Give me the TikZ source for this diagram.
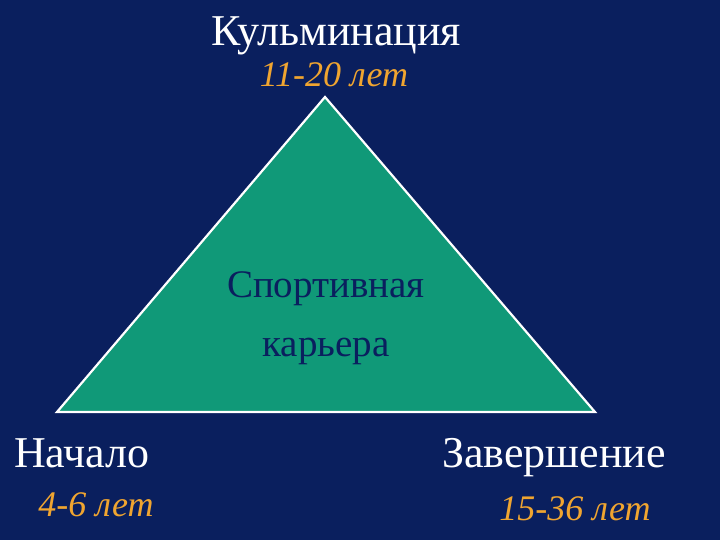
\documentclass[tikz,border=0pt]{standalone}
\usepackage{fontspec}
\setmainfont{Liberation Serif}
\definecolor{navybg}{RGB}{10,31,94}
\definecolor{careergreen}{RGB}{16,153,120}
\definecolor{yearorange}{RGB}{240,165,48}
\tikzset{
  stage/.style={anchor=base,text=white,font=\fontsize{44}{48}\selectfont},
  years/.style={anchor=base,text=yearorange,font=\fontsize{36}{40}\selectfont\itshape},
  inner/.style={anchor=base,text=navybg,font=\fontsize{39}{44}\selectfont}
}
\begin{document}
\begin{tikzpicture}[x=1pt,y=-1pt]
  \fill[navybg] (0,0) rectangle (720,540);
  \useasboundingbox (0,0) rectangle (720,540);
  % triangle corners
  \coordinate (top) at (325,97);
  \coordinate (left) at (57,412);
  \coordinate (right) at (595,412);
  \draw[white,line width=2.2pt,fill=careergreen] (top) -- (right) -- (left) -- cycle;
  % labels
  \node[stage] (peak) at (336,46) {Кульминация};
  \node[years] (peakyears) at (334,87) {11-20 лет};
  \node[stage] (start) at (82,467) {Начало};
  \node[years] (startyears) at (96,516) {4-6 лет};
  \node[stage] (finish) at (554,467) {Завершение};
  \node[years] (finishyears) at (575,520) {15-36 лет};
  \node[inner] (sport) at (326,297) {Спортивная};
  \node[inner] (career) at (326,356) {карьера};
\end{tikzpicture}
\end{document}
